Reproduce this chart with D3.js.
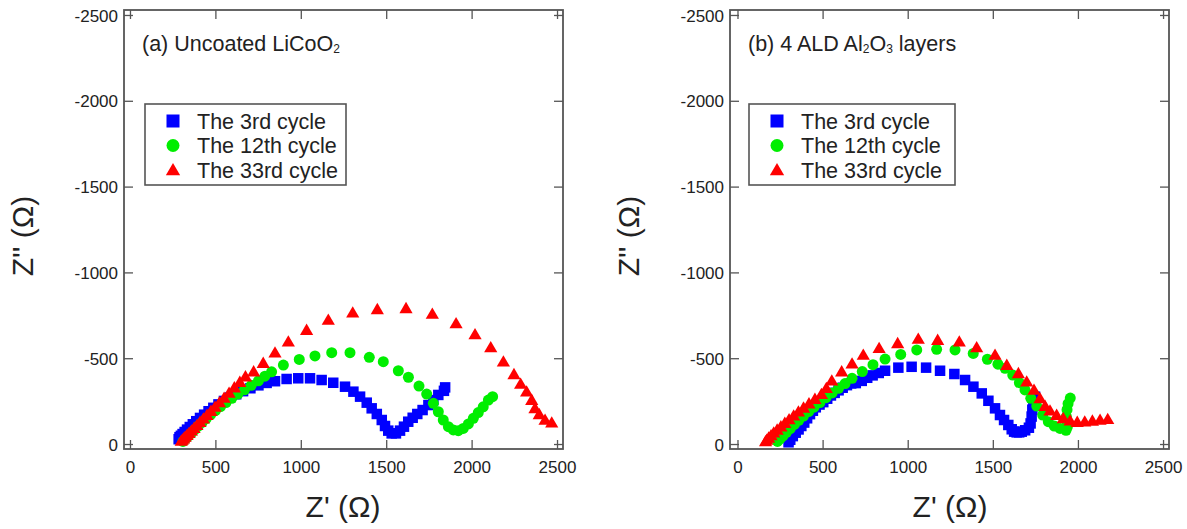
<!DOCTYPE html>
<html>
<head>
<meta charset="utf-8">
<script src="https://cdn.jsdelivr.net/npm/d3@7"></script>
<style>
  html, body { margin: 0; padding: 0; background: #fff; }
  svg { display: block; font-family: "Liberation Sans", Arial, sans-serif; }
</style>
</head>
<body>
<svg id="chart" width="1187" height="529"></svg>
<script>
// ---------- data (Z' in ohm, Z'' in ohm) ----------
const seriesNames = ["The 3rd cycle", "The 12th cycle", "The 33rd cycle"];
const seriesColors = ["#0000ff", "#00ee00", "#ff0000"];
const seriesShapes = ["square", "circle", "triangle"];

const xTicks = [0, 500, 1000, 1500, 2000, 2500];
const yTicks = [0, -500, -1000, -1500, -2000, -2500];

// Panel (a) uncoated LiCoO2
const a_cycle3_re = [285,290,298,308,320,334,350,368,388,410,434,460,488,518,550,585,622,662,705,752,800,849,917,985,1054,1122,1190,1259,1308,1347,1386,1415,1445,1474,1493,1512,1532,1557,1581,1604,1629,1655,1682,1713,1747,1776,1805,1838,1845];
const a_cycle3_im = [-28,-40,-48,-58,-70,-84,-99,-115,-133,-152,-171,-191,-211,-231,-251,-271,-290,-308,-325,-342,-356,-366,-379,-383,-383,-373,-357,-334,-305,-276,-241,-208,-175,-140,-105,-78,-62,-62,-78,-101,-130,-153,-175,-198,-227,-256,-286,-310,-330];

const a_cycle12_re = [310,320,332,346,362,380,400,422,446,472,500,530,562,596,632,670,710,752,790,829,898,991,1083,1181,1288,1401,1483,1571,1630,1692,1737,1776,1805,1834,1864,1893,1922,1951,1981,2010,2039,2068,2098,2123];
const a_cycle12_im = [-15,-25,-37,-51,-67,-85,-105,-126,-148,-171,-194,-218,-242,-266,-291,-316,-342,-368,-395,-421,-460,-493,-513,-532,-532,-505,-480,-427,-389,-338,-291,-237,-188,-140,-101,-82,-78,-91,-117,-150,-183,-217,-256,-276];

const a_cycle33_re = [300,306,314,323,334,346,360,375,392,410,430,451,474,498,524,551,580,611,643,676,724,780,849,927,1034,1161,1304,1448,1616,1770,1909,2020,2112,2186,2248,2287,2322,2352,2371,2396,2430,2469];
const a_cycle33_im = [-18,-24,-32,-41,-52,-64,-78,-93,-110,-128,-148,-169,-192,-216,-242,-269,-298,-329,-361,-393,-422,-472,-532,-596,-664,-723,-765,-785,-791,-758,-703,-639,-563,-480,-406,-350,-305,-256,-208,-173,-140,-124];

// Panel (b) 4 ALD Al2O3 layers
const b_cycle3_re = [300,310,325,342,359,375,392,409,426,443,460,482,504,527,549,571,594,618,643,668,695,730,762,794,830,867,945,1023,1108,1190,1274,1337,1386,1435,1474,1513,1542,1566,1591,1611,1625,1640,1655,1670,1690,1712,1722,1728,1732,1738,1748];
const b_cycle3_im = [-10,-25,-46,-66,-85,-105,-125,-150,-174,-194,-214,-230,-244,-264,-283,-298,-313,-328,-343,-353,-355,-368,-386,-400,-414,-427,-445,-450,-445,-427,-408,-373,-334,-295,-252,-208,-169,-140,-111,-86,-72,-68,-68,-72,-80,-95,-120,-160,-200,-240,-276];

const b_cycle12_re = [235,250,268,288,310,334,360,388,418,450,484,520,556,594,632,673,733,796,867,959,1053,1170,1278,1385,1468,1530,1572,1617,1656,1689,1723,1758,1793,1826,1861,1895,1930,1938,1935,1932,1936,1942,1955];
const b_cycle12_im = [-15,-30,-48,-68,-90,-114,-138,-163,-189,-215,-242,-270,-298,-325,-352,-383,-422,-462,-495,-522,-548,-552,-548,-528,-494,-465,-441,-402,-357,-315,-266,-221,-169,-130,-105,-91,-80,-100,-130,-160,-200,-235,-268];

const b_cycle33_re = [165,172,183,197,213,233,255,278,303,330,358,388,420,455,493,522,554,612,673,739,832,941,1062,1176,1303,1405,1513,1582,1650,1699,1742,1777,1807,1836,1875,1914,1954,1996,2040,2085,2130,2175];
const b_cycle33_im = [-15,-24,-36,-50,-66,-83,-102,-122,-143,-165,-188,-211,-236,-262,-290,-325,-369,-422,-468,-519,-558,-587,-612,-606,-596,-563,-519,-460,-412,-363,-315,-266,-221,-194,-169,-150,-136,-128,-130,-135,-140,-145];

const panels = [
  { title: ["(a) Uncoated LiCoO", "2", ""], frame: {x0: 124, x1: 563, y0: 10, y1: 449}, xDomain: [-35, 2535],
    xLabelX: 343, yLabelX: 22,
    legend: {x0: 145, y0: 104, w: 201, h: 81},
    series: [[a_cycle3_re, a_cycle3_im], [a_cycle12_re, a_cycle12_im], [a_cycle33_re, a_cycle33_im]] },
  { title: ["(b) 4 ALD Al", "2", "O", "3", " layers"], frame: {x0: 730, x1: 1169, y0: 10, y1: 449}, xDomain: [-44, 2535],
    xLabelX: 950, yLabelX: 628,
    legend: {x0: 749, y0: 104, w: 206, h: 81},
    series: [[b_cycle3_re, b_cycle3_im], [b_cycle12_re, b_cycle12_im], [b_cycle33_re, b_cycle33_im]] }
];

const svg = d3.select("#chart");
const frameColor = "#555";
const textColor = "#222";
const tickLen = 9;
const fmt = d => String(d);

function drawMarker(g, shape, color, x, y, s) {
  if (shape === "square") {
    g.append("rect").attr("x", x - s/2).attr("y", y - s/2).attr("width", s).attr("height", s).attr("fill", color);
  } else if (shape === "circle") {
    g.append("circle").attr("cx", x).attr("cy", y).attr("r", s/2).attr("fill", color);
  } else {
    const h = s * 0.9;
    g.append("path").attr("d", `M${x},${y - h*0.6}L${x + s*0.55},${y + h*0.45}L${x - s*0.55},${y + h*0.45}Z`).attr("fill", color);
  }
}

panels.forEach(p => {
  const f = p.frame;
  const x = d3.scaleLinear().domain(p.xDomain).range([f.x0, f.x1]);
  const y = d3.scaleLinear().domain([29, -2529]).range([f.y1, f.y0]);
  const g = svg.append("g");

  // ticks via d3 axes (inner ticks on all 4 sides)
  const axB = g.append("g").attr("transform", `translate(0,${f.y1})`)
    .call(d3.axisBottom(x).tickValues(xTicks).tickSize(-tickLen).tickFormat(fmt));
  const axT = g.append("g").attr("transform", `translate(0,${f.y0})`)
    .call(d3.axisTop(x).tickValues(xTicks).tickSize(-tickLen).tickFormat(""));
  const axL = g.append("g").attr("transform", `translate(${f.x0},0)`)
    .call(d3.axisLeft(y).tickValues(yTicks).tickSize(-tickLen).tickPadding(6).tickFormat(fmt));
  const axR = g.append("g").attr("transform", `translate(${f.x1},0)`)
    .call(d3.axisRight(y).tickValues(yTicks).tickSize(-tickLen).tickFormat(""));
  [axB, axT, axL, axR].forEach(a => {
    a.select(".domain").remove();
    a.selectAll(".tick line").attr("stroke", frameColor).attr("stroke-width", 1.3);
    a.selectAll(".tick text").attr("fill", textColor).attr("font-size", 17)
      .attr("font-family", "'Liberation Sans', Arial, sans-serif");
  });
  axL.selectAll(".tick text").attr("x", -6).attr("dy", "0.36em");
  axB.selectAll(".tick text").attr("dy", "0.71em").attr("y", 12);

  // frame
  g.append("rect").attr("x", f.x0).attr("y", f.y0).attr("width", f.x1 - f.x0).attr("height", f.y1 - f.y0)
    .attr("fill", "none").attr("stroke", frameColor).attr("stroke-width", 1.8);

  // data
  const dg = g.append("g");
  p.series.forEach((s, i) => {
    const [re, im] = s;
    const sz = seriesShapes[i] === "triangle" ? 12 : (seriesShapes[i] === "circle" ? 11 : 10.5);
    re.forEach((v, k) => drawMarker(dg, seriesShapes[i], seriesColors[i], x(v), y(im[k]), sz));
  });

  // title
  const t = g.append("text").attr("x", f.x0 + 18).attr("y", 51).attr("fill", textColor).attr("font-size", 21.5);
  p.title.forEach((part, k) => {
    if (k % 2 === 1) {
      t.append("tspan").attr("font-size", 12).attr("dy", 2).text(part);
    } else if (k > 0) {
      t.append("tspan").attr("dy", -2).text(part);
    } else {
      t.append("tspan").text(part);
    }
  });

  // legend
  const L = p.legend;
  g.append("rect").attr("x", L.x0).attr("y", L.y0).attr("width", L.w).attr("height", L.h)
    .attr("fill", "#fff").attr("stroke", frameColor).attr("stroke-width", 1.6);
  seriesNames.forEach((n, i) => {
    const cy = L.y0 + 17 + i * 24.5;
    drawMarker(g, seriesShapes[i], seriesColors[i], L.x0 + 28, cy, 13);
    g.append("text").attr("x", L.x0 + 52).attr("y", cy + 7.5).attr("fill", textColor).attr("font-size", 21.5).text(n);
  });

  // axis titles
  g.append("text").attr("x", p.xLabelX).attr("y", 517).attr("text-anchor", "middle")
    .attr("fill", textColor).attr("font-size", 30).text("Z' (Ω)");
  g.append("text").attr("transform", `translate(${p.yLabelX + 11},236) rotate(-90)`).attr("text-anchor", "middle")
    .attr("fill", textColor).attr("font-size", 30).text("Z'' (Ω)");
});
</script>
</body>
</html>
